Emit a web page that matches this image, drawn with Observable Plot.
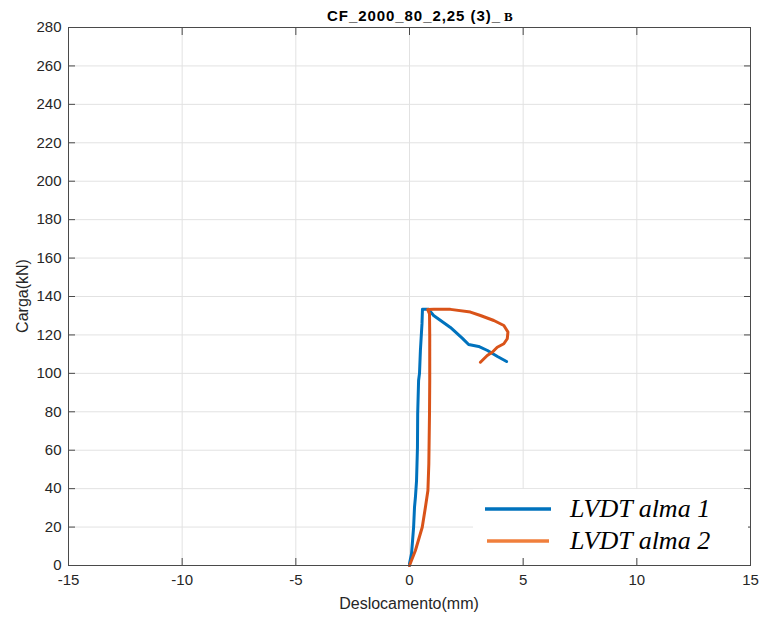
<!DOCTYPE html>
<html>
<head>
<meta charset="utf-8">
<script src="https://cdn.jsdelivr.net/npm/d3@7"></script>
<script src="https://cdn.jsdelivr.net/npm/@observablehq/plot@0.6"></script>
<style>
  html, body { margin: 0; padding: 0; background: #fff; }
  #chart { position: relative; width: 760px; height: 617px; }
  svg { display: block; }
</style>
</head>
<body>
<div id="chart"></div>
<script>
// ---- data ----
const titleMain = "CF_2000_80_2,25 (3)_";
const titleSub = "B";
const xLabel = "Deslocamento(mm)";
const yLabel = "Carga(kN)";
const seriesNames = ["LVDT alma 1", "LVDT alma 2"];
const seriesColors = ["#0072BD", "#D95319"];
const legendColors = ["#0072BD", "#F07F3C"];

const xTicks = [-15, -10, -5, 0, 5, 10, 15];
const yTicks = [0, 20, 40, 60, 80, 100, 120, 140, 160, 180, 200, 220, 240, 260, 280];

const alma1X = [0, 0.0, 0.09, 0.18, 0.22, 0.26, 0.31, 0.35, 0.36, 0.40, 0.44, 0.48, 0.55, 0.57, 0.84, 1.06, 1.80, 2.33, 2.60, 3.04, 3.43, 3.87, 4.27];
const alma1Y = [0, 1, 6.2, 19.8, 30.2, 35.4, 44.2, 61.4, 79.1, 96.3, 100, 112, 126, 133.3, 133.3, 130.1, 123.9, 118.2, 115.0, 114.0, 111.9, 108.8, 106.2];

const alma2X = [0, 0.26, 0.56, 0.70, 0.81, 0.85, 0.88, 0.89, 0.89, 0.88, 0.80, 1.07, 1.80, 2.68, 3.12, 3.71, 4.15, 4.33, 4.30, 4.15, 3.86, 3.64, 3.42, 3.12];
const alma2Y = [0, 7.8, 19.9, 30.3, 39.0, 52.9, 79.0, 96.3, 120, 131, 133.2, 133.3, 133.3, 131.9, 130.1, 127.5, 124.9, 121.5, 118.0, 115.4, 113.6, 111.0, 109.3, 105.8];

const alma1 = alma1X.map((x, i) => ({x, y: alma1Y[i]}));
const alma2 = alma2X.map((x, i) => ({x, y: alma2Y[i]}));

const W = 760, H = 617;
const mL = 68, mR = 10, mT = 27, mB = 52;
const tickLen = 7;
const font = "'Liberation Sans', Arial, Helvetica, sans-serif";
const fmt = d => String(d);

const chart = Plot.plot({
  width: W,
  height: H,
  marginLeft: mL,
  marginRight: mR,
  marginTop: mT,
  marginBottom: mB,
  style: {fontFamily: font, fontSize: "15px", color: "#262626", background: "#fff"},
  x: {domain: [-15, 15]},
  y: {domain: [0, 280]},
  marks: [
    Plot.gridX(xTicks, {stroke: "#e2e2e2", strokeOpacity: 1}),
    Plot.gridY(yTicks, {stroke: "#e2e2e2", strokeOpacity: 1}),
    // labels
    Plot.axisX(xTicks, {anchor: "bottom", tickSize: 0, tickPadding: 9, label: null, fontSize: 15, fill: "#262626", tickFormat: fmt}),
    Plot.axisY(yTicks, {anchor: "left", tickSize: 0, tickPadding: 7, label: null, fontSize: 15, fill: "#262626", tickFormat: fmt}),
    // inward ticks
    Plot.axisX(xTicks, {anchor: "bottom", tickSize: tickLen, insetBottom: tickLen, tickFormat: () => "", label: null, stroke: "#4a4a4a"}),
    Plot.axisX(xTicks, {anchor: "top", tickSize: tickLen, insetTop: tickLen, tickFormat: () => "", label: null, stroke: "#4a4a4a"}),
    Plot.axisY(yTicks, {anchor: "left", tickSize: tickLen, insetLeft: tickLen, tickFormat: () => "", label: null, stroke: "#4a4a4a"}),
    Plot.axisY(yTicks, {anchor: "right", tickSize: tickLen, insetRight: tickLen, tickFormat: () => "", label: null, stroke: "#4a4a4a"}),
    Plot.line(alma1, {x: "x", y: "y", stroke: seriesColors[0], strokeWidth: 3, strokeLinejoin: "round", strokeLinecap: "round"}),
    Plot.line(alma2, {x: "x", y: "y", stroke: seriesColors[1], strokeWidth: 3, strokeLinejoin: "round", strokeLinecap: "round"}),
    Plot.frame({stroke: "#4a4a4a", strokeWidth: 1})
  ]
});

document.getElementById("chart").appendChild(chart);

const svg = d3.select(chart);

// legend (white box covering the grid)
const lg = svg.append("g").attr("text-anchor", "start");
lg.append("rect").attr("x", 473).attr("y", 489).attr("width", 275).attr("height", 69).attr("fill", "#fff");
const legendRows = [
  {name: seriesNames[0], color: legendColors[0], y: 509, x1: 485, x2: 551, ty: 517},
  {name: seriesNames[1], color: legendColors[1], y: 541, x1: 487, x2: 549, ty: 549}
];
legendRows.forEach(r => {
  lg.append("line").attr("x1", r.x1).attr("x2", r.x2).attr("y1", r.y).attr("y2", r.y)
    .attr("stroke", r.color).attr("stroke-width", 3.5);
  lg.append("text").attr("x", 570).attr("y", r.ty).attr("text-anchor", "start")
    .attr("font-family", "'Liberation Serif', 'Times New Roman', serif")
    .attr("font-style", "italic").attr("font-size", 26).attr("fill", "#000")
    .text(r.name);
});

// title
const t = svg.append("text").attr("x", 327).attr("y", 21).attr("text-anchor", "start")
  .attr("font-family", font).attr("font-weight", "bold").attr("font-size", 15).attr("fill", "#000");
t.append("tspan").attr("textLength", 173).attr("lengthAdjust", "spacing").text(titleMain);
t.append("tspan").attr("font-family", "'Liberation Serif', 'Times New Roman', serif").attr("font-weight", "bold").attr("font-size", 13).attr("dx", 3).text(titleSub);

// axis titles
svg.append("text").attr("x", (mL + W - mR) / 2).attr("y", 609).attr("text-anchor", "middle")
  .attr("font-family", font).attr("font-size", 16).attr("fill", "#262626").text(xLabel);
svg.append("text").attr("transform", `translate(28,${(mT + H - mB) / 2}) rotate(-90)`).attr("text-anchor", "middle")
  .attr("font-family", font).attr("font-size", 16).attr("fill", "#262626").text(yLabel);
</script>
</body>
</html>
